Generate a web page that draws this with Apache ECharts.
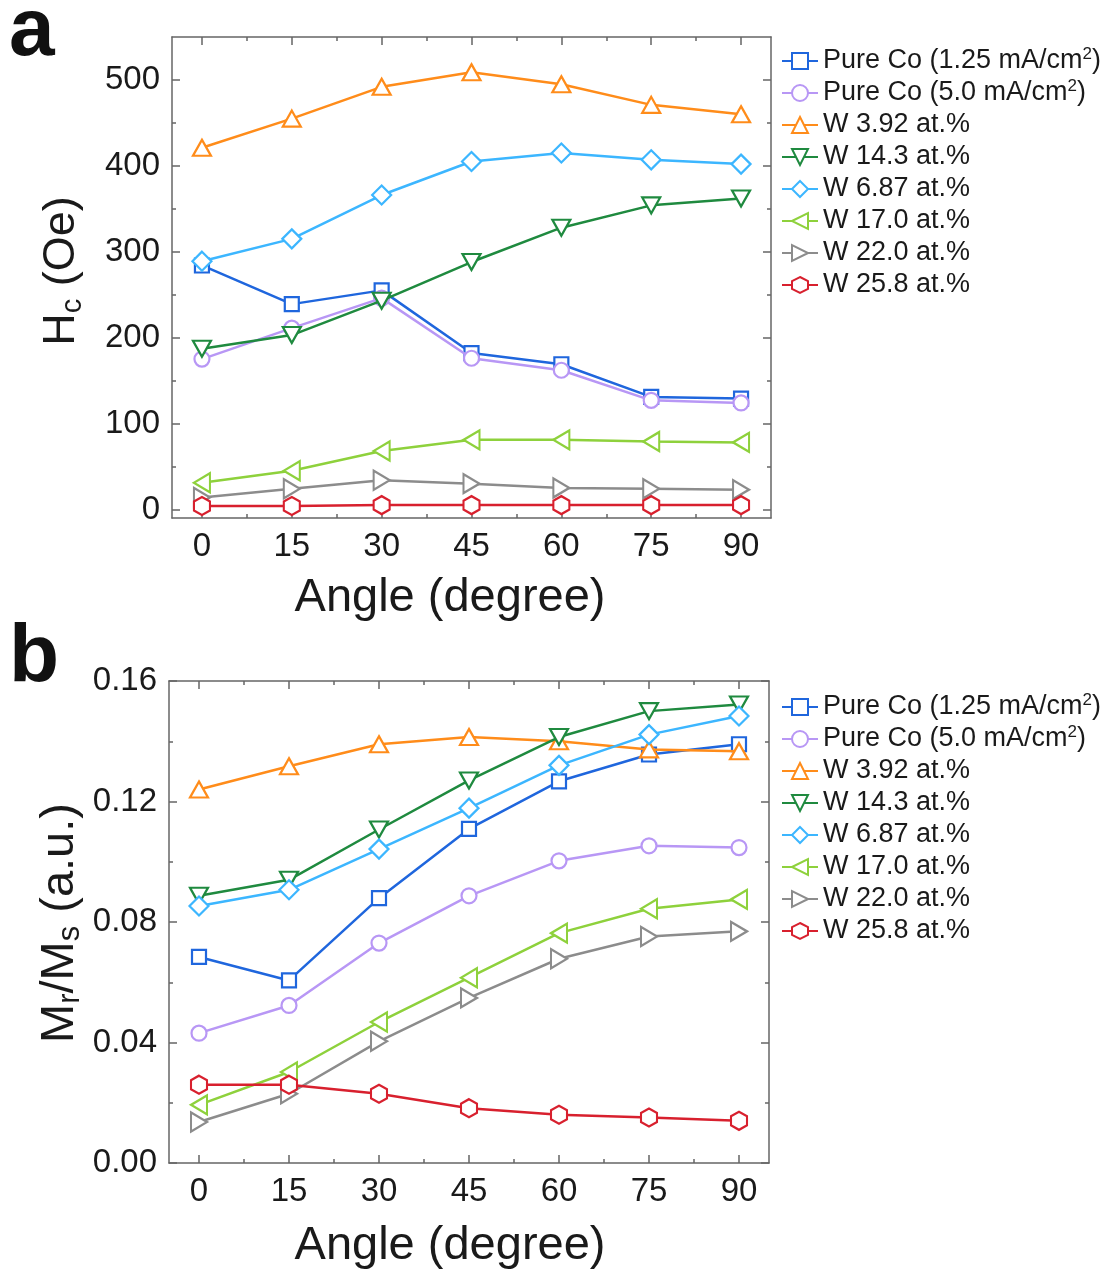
<!DOCTYPE html>
<html><head><meta charset="utf-8">
<script src="https://cdn.jsdelivr.net/npm/echarts@6/dist/echarts.min.js"></script>
<style>html,body{margin:0;padding:0;background:#fff}#c{width:1110px;height:1271px}</style>
</head><body><div id="c"></div>
<script>
// ---------- data ----------
const angles = [0, 15, 30, 45, 60, 75, 90];
const angleTicks = [0, 15, 30, 45, 60, 75, 90];
const angleMinorTicks = [7.5, 22.5, 37.5, 52.5, 67.5, 82.5];
const hcTicks = [0, 100, 200, 300, 400, 500];
const hcMinorTicks = [50, 150, 250, 350, 450];
const mrTicks = [0, 0.04, 0.08, 0.12, 0.16];
const mrMinorTicks = [0.02, 0.06, 0.10, 0.14];

const seriesNames = ['Pure Co (1.25 mA/cm2)', 'Pure Co (5.0 mA/cm2)', 'W 3.92 at.%', 'W 14.3 at.%',
  'W 6.87 at.%', 'W 17.0 at.%', 'W 22.0 at.%', 'W 25.8 at.%'];

// Hc (Oe)
const hcCo125 = [284, 239, 255, 182, 169, 131, 129];
const hcCo50  = [175, 211, 246, 176, 162, 127, 124];
const hcW392  = [421, 455, 492, 509, 495, 471, 460];
const hcW143  = [187, 203, 243, 288, 328, 354, 362];
const hcW687  = [289, 315, 366, 405, 415, 407, 402];
const hcW170  = [31, 45, 68, 81, 81, 79, 78];
const hcW220  = [14, 24, 34, 30, 25, 24, 23];
const hcW258  = [4, 4, 5, 5, 5, 5, 5];

// Mr/Ms (a.u.)
const mrCo125 = [0.0684, 0.0606, 0.0879, 0.1109, 0.1267, 0.1356, 0.1390];
const mrCo50  = [0.0431, 0.0523, 0.0730, 0.0887, 0.1003, 0.1053, 0.1047];
const mrW392  = [0.1240, 0.1317, 0.1390, 0.1414, 0.1400, 0.1373, 0.1367];
const mrW143  = [0.0887, 0.0940, 0.1107, 0.1270, 0.1414, 0.1500, 0.1522];
const mrW687  = [0.0853, 0.0907, 0.1042, 0.1178, 0.1320, 0.1422, 0.1484];
const mrW170  = [0.0193, 0.0302, 0.0468, 0.0615, 0.0763, 0.0844, 0.0875];
const mrW220  = [0.0136, 0.0230, 0.0404, 0.0548, 0.0678, 0.0752, 0.0769];
const mrW258  = [0.0260, 0.0260, 0.0230, 0.0182, 0.0160, 0.0151, 0.0140];

const hcData = [hcCo125, hcCo50, hcW392, hcW143, hcW687, hcW170, hcW220, hcW258];
const mrData = [mrCo125, mrCo50, mrW392, mrW143, mrW687, mrW170, mrW220, mrW258];

// ---------- styles ----------
const FONT = 'Liberation Sans, Arial, sans-serif';
const TXT = '#1a1a1a';
const AX = '#666';
const HEX = 'path://M0,-10 L8.66,-5 L8.66,5 L0,10 L-8.66,5 L-8.66,-5 Z';
const marks = [
  {color: '#1f66dd', symbol: 'rect', size: 14, rot: 0},
  {color: '#b897f5', symbol: 'circle', size: 15, rot: 0},
  {color: '#ff8c1a', symbol: 'triangle', size: [18, 16], rot: 0},
  {color: '#1f8a3f', symbol: 'triangle', size: [18, 16], rot: 180},
  {color: '#3cb6ff', symbol: 'diamond', size: [19, 19], rot: 0},
  {color: '#8ed13c', symbol: 'triangle', size: [19, 16], rot: 90},
  {color: '#8c8c8c', symbol: 'triangle', size: [19, 16], rot: -90},
  {color: '#d8202e', symbol: HEX, size: [16, 18], rot: 0}
];

function xAxes(grid, min, max, majors, minors) {
  const base = {gridIndex: grid, type: 'value', min: min, max: max, splitLine: {show: false}};
  const ls = {color: AX, width: 1.5};
  return [
    Object.assign({}, base, {position: 'bottom',
      axisLine: {show: true, onZero: false, lineStyle: ls},
      axisTick: {show: true, inside: true, length: 8, customValues: majors, lineStyle: ls},
      axisLabel: {show: true, customValues: majors, margin: 12, fontSize: 33, color: TXT, fontFamily: FONT}}),
    Object.assign({}, base, {position: 'bottom', axisLine: {show: false, onZero: false},
      axisTick: {show: true, inside: true, length: 4, customValues: minors, lineStyle: ls}, axisLabel: {show: false}}),
    Object.assign({}, base, {position: 'top', axisLine: {show: true, onZero: false, lineStyle: ls},
      axisTick: {show: true, inside: true, length: 8, customValues: majors, lineStyle: ls}, axisLabel: {show: false}}),
    Object.assign({}, base, {position: 'top', axisLine: {show: false, onZero: false},
      axisTick: {show: true, inside: true, length: 4, customValues: minors, lineStyle: ls}, axisLabel: {show: false}})
  ];
}
function yAxes(grid, min, max, majors, minors, fmt) {
  const base = {gridIndex: grid, type: 'value', min: min, max: max, splitLine: {show: false}};
  const ls = {color: AX, width: 1.5};
  return [
    Object.assign({}, base, {position: 'left',
      axisLine: {show: true, onZero: false, lineStyle: ls},
      axisTick: {show: true, inside: true, length: 8, customValues: majors, lineStyle: ls},
      axisLabel: {show: true, customValues: majors, margin: 12, fontSize: 33, color: TXT, fontFamily: FONT, formatter: fmt}}),
    Object.assign({}, base, {position: 'left', axisLine: {show: false, onZero: false},
      axisTick: {show: true, inside: true, length: 4, customValues: minors, lineStyle: ls}, axisLabel: {show: false}}),
    Object.assign({}, base, {position: 'right', axisLine: {show: true, onZero: false, lineStyle: ls},
      axisTick: {show: true, inside: true, length: 8, customValues: majors, lineStyle: ls}, axisLabel: {show: false}}),
    Object.assign({}, base, {position: 'right', axisLine: {show: false, onZero: false},
      axisTick: {show: true, inside: true, length: 4, customValues: minors, lineStyle: ls}, axisLabel: {show: false}})
  ];
}

const xAxis = xAxes(0, -5, 95, angleTicks, angleMinorTicks).concat(xAxes(1, -5, 95, angleTicks, angleMinorTicks));
const yAxis = yAxes(0, -10, 550, hcTicks, hcMinorTicks, v => String(v))
  .concat(yAxes(1, 0, 0.16, mrTicks, mrMinorTicks, v => v.toFixed(2)));

const series = [];
function addSeries(dataSets, xi, yi) {
  dataSets.forEach((vals, i) => {
    const m = marks[i];
    series.push({
      name: seriesNames[i], type: 'line', xAxisIndex: xi, yAxisIndex: yi,
      data: angles.map((a, k) => [a, vals[k]]),
      symbol: m.symbol, symbolSize: m.size, symbolRotate: m.rot, showAllSymbol: true,
      lineStyle: {color: m.color, width: 2.5},
      itemStyle: {color: '#fff', borderColor: m.color, borderWidth: 2.2},
      emphasis: {disabled: true}, z: 2 + i * 0.01
    });
  });
}
addSeries(hcData, 0, 0);
addSeries(mrData, 4, 4);

function legendAt(top) {
  return {
    left: 781, top: top, padding: 0, orient: 'vertical', itemWidth: 36, itemHeight: 20, itemGap: 2,
    data: seriesNames, selectedMode: false,
    formatter: n => n.replace('cm2', 'cm{sup|2}'),
    textStyle: {fontSize: 27, color: TXT, fontFamily: FONT, lineHeight: 30,
      rich: {sup: {fontSize: 17, fontFamily: FONT, color: TXT, lineHeight: 17, verticalAlign: 'top'}}}
  };
}

const chart = echarts.init(document.getElementById('c'), null, {renderer: 'canvas'});
chart.setOption({
  animation: false,
  backgroundColor: '#fff',
  grid: [
    {left: 172, top: 37, width: 599, height: 481, containLabel: false},
    {left: 169, top: 681, width: 600, height: 482, containLabel: false}
  ],
  xAxis: xAxis,
  yAxis: yAxis,
  legend: [legendAt(46), legendAt(692)],
  series: series,
  graphic: [
    {type: 'text', x: 9, y: 32, style: {text: 'a', fontSize: 82, fontWeight: 900, fontFamily: FONT, fill: '#111', align: 'left', verticalAlign: 'middle'}},
    {type: 'text', x: 9, y: 658, style: {text: 'b', fontSize: 82, fontWeight: 900, fontFamily: FONT, fill: '#111', align: 'left', verticalAlign: 'middle'}},
    {type: 'text', x: 450, y: 598, style: {text: 'Angle (degree)', fontSize: 47, fontFamily: FONT, fill: TXT, align: 'center', verticalAlign: 'middle'}},
    {type: 'text', x: 450, y: 1246, style: {text: 'Angle (degree)', fontSize: 47, fontFamily: FONT, fill: TXT, align: 'center', verticalAlign: 'middle'}},
    {type: 'text', x: 62, y: 271, rotation: Math.PI / 2, style: {
      text: '{n|H}{s|c}{n| (Oe)}', align: 'center', verticalAlign: 'middle',
      rich: {n: {fontSize: 45, fontFamily: FONT, fill: TXT, lineHeight: 50}, s: {fontSize: 29, fontFamily: FONT, fill: TXT, lineHeight: 30, verticalAlign: 'bottom'}}}},
    {type: 'text', x: 60, y: 923, rotation: Math.PI / 2, style: {
      text: '{n|M}{s|r}{n|/M}{s|s}{n| (a.u.)}', align: 'center', verticalAlign: 'middle',
      rich: {n: {fontSize: 47, fontFamily: FONT, fill: TXT, lineHeight: 52}, s: {fontSize: 31, fontFamily: FONT, fill: TXT, lineHeight: 31, verticalAlign: 'bottom'}}}}
  ]
});
</script>
</body></html>
